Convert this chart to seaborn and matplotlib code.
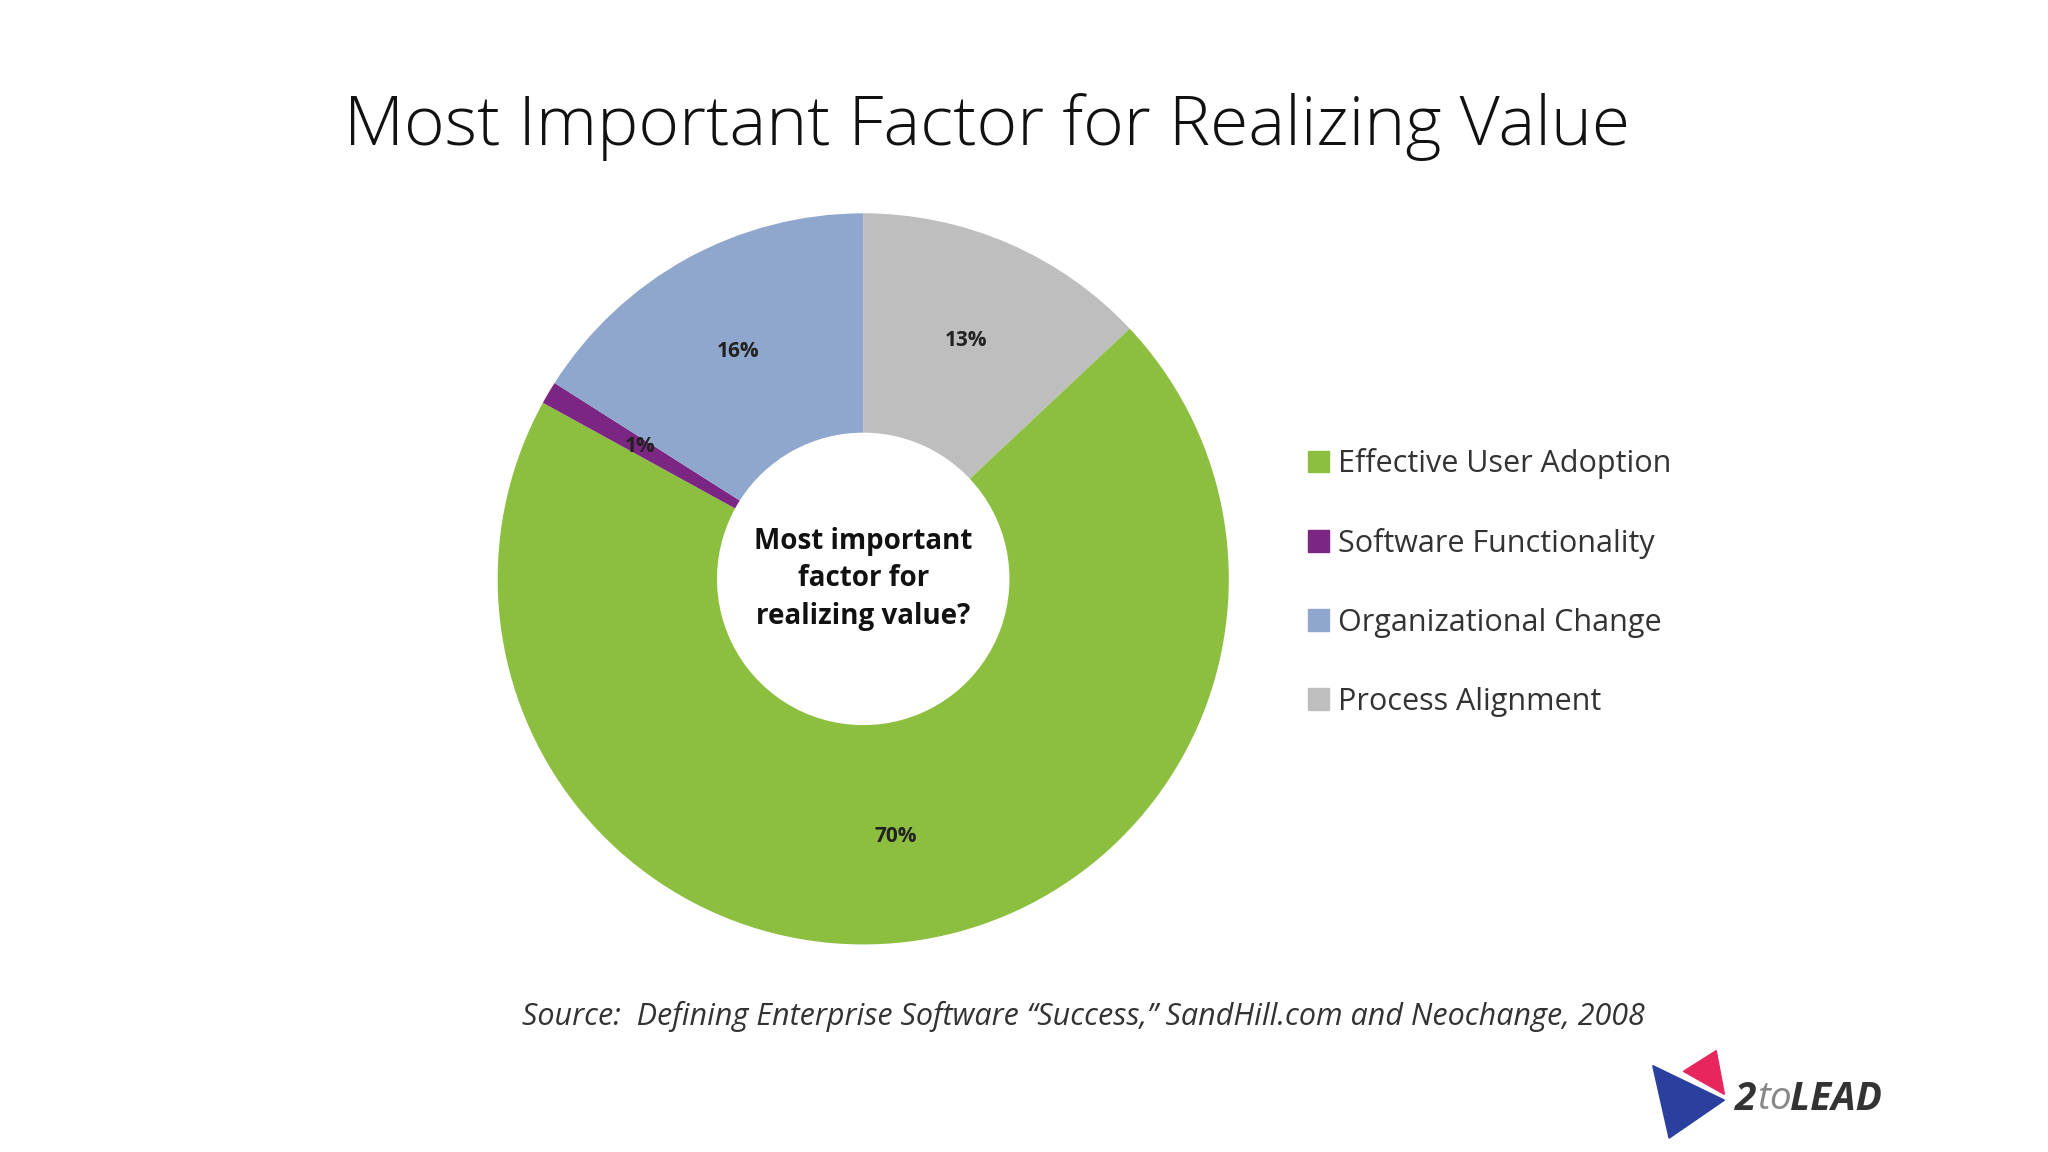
import matplotlib
matplotlib.use("Agg")
import matplotlib.pyplot as plt
import seaborn as sns
from matplotlib.patches import Polygon

sns.set_theme(style="white")
plt.rcParams['font.family'] = ['Open Sans', 'DejaVu Sans']

categories = ["Effective User Adoption", "Software Functionality", "Organizational Change", "Process Alignment"]
values = [70, 1, 16, 13]
labels = ["70%", "1%", "16%", "13%"]
colors = ["#8cbf3f", "#7a2682", "#8fa6cd", "#bebebe"]

# drawing order (clockwise from top): Process, Effective, Software, Organizational
order = [3, 0, 1, 2]

fig = plt.figure(figsize=(20.48, 11.52), dpi=100)
fig.patch.set_facecolor("white")
ax = fig.add_axes([0.243, 0.180, 0.357, 0.635])
wedges, _, autotexts = ax.pie([values[i] for i in order], colors=[colors[i] for i in order],
       startangle=90, counterclock=False, autopct=lambda p: "",
       pctdistance=0.71, wedgeprops=dict(width=0.6, edgecolor="none"))
for t, i in zip(autotexts, order):
    t.set_text(labels[i]); t.set_fontsize(15); t.set_fontweight("bold"); t.set_color("#222222")
ax.set_xlim(-1, 1); ax.set_ylim(-1, 1)
ax.set_aspect("equal")
ax.text(0, 0, "Most important\nfactor for\nrealizing value?", ha="center", va="center",
        fontsize=20, fontweight="bold", color="#111111", linespacing=1.4)

handles = [plt.Rectangle((0, 0), 1, 1, color=c) for c in colors]
fig.legend(handles, categories, loc="upper left", bbox_to_anchor=(0.625, 0.635), frameon=False,
           fontsize=22, labelspacing=1.6, handlelength=0.7, handleheight=0.7, handletextpad=0.3,
           labelcolor="#333333")

fig.text(0.482, 0.89, "Most Important Factor for Realizing Value", ha="center", va="center",
         fontsize=50, color="#111111", fontweight="light")
fig.text(0.529, 0.118, "Source:  Defining Enterprise Software \u201cSuccess,\u201d SandHill.com and Neochange, 2008",
         ha="center", va="center", fontsize=22, style="italic", color="#333333")

# logo
fig.patches.append(Polygon([[0.807, 0.075], [0.842, 0.045], [0.815, 0.012]], closed=True,
                           transform=fig.transFigure, color="#2a3f9e"))
fig.patches.append(Polygon([[0.822, 0.07], [0.842, 0.05], [0.838, 0.088]], closed=True,
                           transform=fig.transFigure, color="#e8265e"))
fig.text(0.847, 0.046, "2", fontsize=28, fontweight="bold", style="italic", color="#333333", va="center")
fig.text(0.858, 0.046, "to", fontsize=28, style="italic", color="#888888", va="center")
fig.text(0.874, 0.046, "LEAD", fontsize=28, fontweight="bold", style="italic", color="#333333", va="center")

fig.savefig("out.png", dpi=100)
